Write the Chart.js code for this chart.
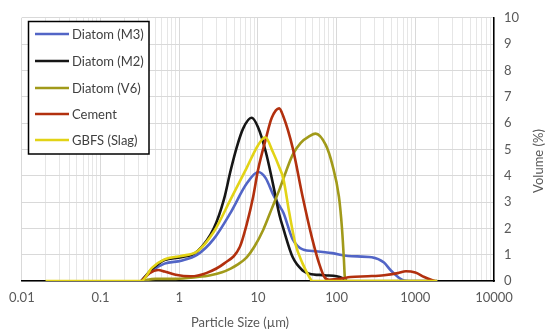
<!DOCTYPE html>
<html>
<head>
<meta charset="utf-8">
<script src="https://cdn.jsdelivr.net/npm/chart.js@4"></script>
<style>
  html, body { margin: 0; padding: 0; background: #fff; }
  #wrap { width: 550px; height: 336px; }
</style>
</head>
<body>
<div id="wrap"><canvas id="psd"></canvas></div>
<script>
// particle size distributions
const seriesNames = ['Diatom (M3)', 'Diatom (M2)', 'Diatom (V6)', 'Cement', 'GBFS (Slag)'];
const seriesColors = ['#5265C6', '#161616', '#A19A1A', '#B2300E', '#E2D316'];

const sizeM3 = [0.33, 0.45, 0.65, 1.06, 1.7, 2.75, 4.5, 7.2, 10.1, 12.6, 15.5, 18.8, 21, 27.5, 37, 54, 88, 140, 280, 400, 490, 720, 1000, 1900];
const volM3  = [0, 0.38, 0.66, 0.77, 1.0, 1.6, 2.6, 3.7, 4.14, 3.9, 3.3, 2.85, 2.6, 1.6, 1.2, 1.13, 1.06, 0.95, 0.9, 0.7, 0.4, 0.02, 0, 0];

const sizeM2 = [0.33, 0.45, 0.65, 1.06, 1.7, 2.75, 3.7, 4.5, 5.4, 6.5, 8.3, 10, 12.6, 15.5, 18.8, 21, 27.7, 37, 45, 70, 100, 117, 135];
const volM2  = [0, 0.45, 0.8, 0.9, 1.13, 2.0, 3.1, 4.2, 5.1, 5.8, 6.2, 5.85, 4.9, 3.7, 2.5, 2.0, 0.9, 0.4, 0.28, 0.22, 0.18, 0.12, 0];

const sizeV6 = [0.33, 0.5, 0.9, 1.7, 2.5, 3.5, 4.5, 5.5, 7.2, 9, 11.7, 15, 18.9, 23, 27.7, 35, 45, 54, 73, 88, 107, 117, 124, 127, 130, 300, 1000, 1900];
const volV6  = [0, 0.08, 0.08, 0.15, 0.22, 0.33, 0.47, 0.62, 0.9, 1.3, 1.95, 2.75, 3.5, 4.2, 4.8, 5.25, 5.5, 5.6, 5.16, 4.43, 3.2, 2.0, 0.77, 0.15, 0, 0, 0, 0];

const sizeCem = [0.33, 0.42, 0.54, 0.65, 0.9, 1.4, 2.2, 3.7, 5.9, 7.2, 8.7, 10, 12.6, 15, 18.6, 21, 27.7, 37, 49, 60, 70, 80, 110, 150, 250, 400, 600, 760, 1000, 1300, 1750];
const volCem  = [0, 0.3, 0.42, 0.36, 0.24, 0.18, 0.3, 0.66, 1.3, 2.15, 3.2, 4.2, 5.4, 6.2, 6.56, 6.26, 5.05, 3.2, 1.6, 0.66, 0.15, 0.05, 0.08, 0.15, 0.18, 0.22, 0.3, 0.37, 0.32, 0.15, 0];

const sizeSlag = [0.02, 0.33, 0.45, 0.65, 1.06, 1.7, 2.75, 4.5, 7.2, 10, 12.4, 15.5, 18.8, 21, 25, 30, 37, 45, 49, 100, 500, 1000, 1900];
const volSlag  = [0, 0, 0.5, 0.82, 0.95, 1.13, 1.87, 3.1, 4.3, 5.15, 5.46, 4.9, 4.3, 3.9, 2.6, 1.4, 0.66, 0.15, 0, 0, 0, 0, 0];

const yTicks = [0, 1, 2, 3, 4, 5, 6, 7, 8, 9, 10];

const FONT = 'Lato, "Open Sans", sans-serif';
const TEXT = '#595959';

function pairs(xs, ys) {
  return xs.map((x, i) => ({ x: x, y: ys[i] }));
}

const allSeries = [
  pairs(sizeM3, volM3),
  pairs(sizeM2, volM2),
  pairs(sizeV6, volV6),
  pairs(sizeCem, volCem),
  pairs(sizeSlag, volSlag)
];

// legend box + axis titles drawn by hand (excel style)
const decor = {
  id: 'decor',
  afterDraw(chart) {
    const c = chart.ctx;
    c.save();

    // legend
    c.fillStyle = '#fff';
    c.fillRect(28, 21, 121, 133);
    c.strokeStyle = '#000';
    c.lineWidth = 1.5;
    c.strokeRect(28.5, 21.5, 120.5, 132.5);
    const rows = [34, 61, 88, 114, 140];
    c.font = '13px ' + FONT;
    c.textBaseline = 'middle';
    c.textAlign = 'left';
    seriesNames.forEach((n, i) => {
      c.strokeStyle = seriesColors[i];
      c.lineWidth = 2.5;
      c.beginPath();
      c.moveTo(35, rows[i]);
      c.lineTo(69, rows[i]);
      c.stroke();
      c.fillStyle = '#404040';
      c.fillText(n, 72, rows[i] + 1);
    });

    // axis titles
    c.fillStyle = TEXT;
    c.font = '13px ' + FONT;
    c.textAlign = 'center';
    c.fillText('Particle Size (\u00b5m)', 240, 323);
    c.translate(539, 161);
    c.rotate(-Math.PI / 2);
    c.fillText('Volume (%)', 0, 0);
    c.restore();
  }
};

function isDecade(v) {
  const l = Math.log10(v);
  return Math.abs(l - Math.round(l)) < 1e-6;
}

new Chart(document.getElementById('psd'), {
  type: 'line',
  data: {
    datasets: allSeries.map((d, i) => ({
      label: seriesNames[i],
      data: d,
      borderColor: seriesColors[i],
      backgroundColor: seriesColors[i],
      borderWidth: 2.6,
      pointRadius: 0,
      cubicInterpolationMode: 'monotone',
      fill: false,
      order: 4 - i
    }))
  },
  options: {
    responsive: true,
    maintainAspectRatio: false,
    animation: false,
    layout: { padding: { left: 16, top: 8, right: 0, bottom: 0 } },
    plugins: {
      legend: { display: false },
      tooltip: { enabled: false }
    },
    scales: {
      x: {
        type: 'logarithmic',
        min: 0.01,
        max: 10000,
        afterBuildTicks: (scale) => {
          const t = [];
          for (let e = -2; e <= 3; e++) {
            for (let m = 1; m <= 9; m++) {
              t.push({ value: Number((m * Math.pow(10, e)).toPrecision(3)) });
            }
          }
          t.push({ value: 10000 });
          scale.ticks = t;
        },
        afterFit: (scale) => { scale.height = 55; },
        grid: {
          color: (ctx) => (ctx.tick && isDecade(ctx.tick.value)) ? '#d9d9d9' : '#e6e6e6',
          lineWidth: 1,
          drawTicks: false
        },
        border: { color: '#000', width: 1.5 },
        ticks: {
          autoSkip: false,
          maxRotation: 0,
          padding: 9,
          color: TEXT,
          font: { family: FONT, size: 13 },
          callback: (v) => isDecade(v) ? String(v) : ''
        }
      },
      y: {
        position: 'right',
        min: 0,
        max: 10,
        afterBuildTicks: (scale) => {
          scale.ticks = yTicks.map(v => ({ value: v }));
        },
        afterFit: (scale) => { scale.width = 56; },
        grid: { color: '#d9d9d9', lineWidth: 1, drawTicks: false },
        border: { color: '#000', width: 1.5 },
        ticks: {
          padding: 10,
          color: TEXT,
          font: { family: FONT, size: 13 }
        }
      }
    }
  },
  plugins: [decor]
});
</script>
</body>
</html>
